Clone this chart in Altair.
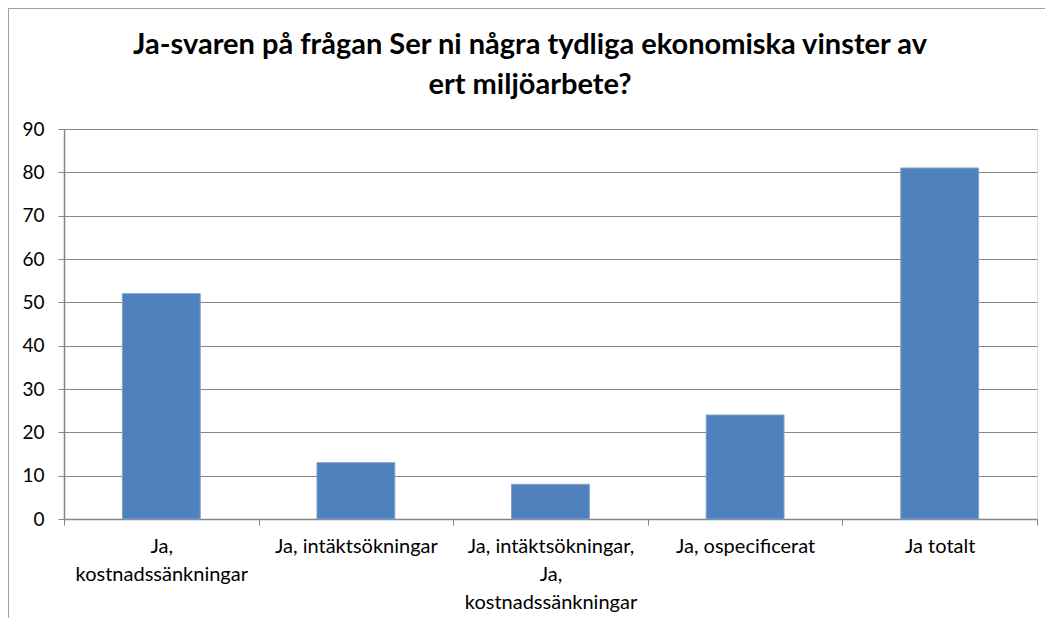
import altair as alt
import pandas as pd

categories = [
    "Ja, kostnadssänkningar",
    "Ja, intäktsökningar",
    "Ja, intäktsökningar, Ja, kostnadssänkningar",
    "Ja, ospecificerat",
    "Ja totalt",
]
wrapped_labels = [
    ["Ja,", "kostnadssänkningar"],
    ["Ja, intäktsökningar"],
    ["Ja, intäktsökningar,", "Ja,", "kostnadssänkningar"],
    ["Ja, ospecificerat"],
    ["Ja totalt"],
]
values = [52, 13, 8, 24, 81]
y_ticks = [0, 10, 20, 30, 40, 50, 60, 70, 80, 90]
title_lines = [
    "Ja-svaren på frågan Ser ni några tydliga ekonomiska vinster av",
    "ert miljöarbete?",
]

df = pd.DataFrame({"kategori": categories, "antal": values})

# label lookup expression for multi-line axis labels
pairs = []
for c, lines in zip(categories, wrapped_labels):
    arr = ",".join("'" + l + "'" for l in lines)
    pairs.append("'" + c + "': [" + arr + "]")
label_expr = "{" + ", ".join(pairs) + "}[datum.label]"

FONT = "Lato"
GRID = "#868686"

bars = alt.Chart(df).mark_bar(
    color="#4F81BD", stroke="#7EA2CF", strokeWidth=1,
    width=alt.RelativeBandSize(0.4),
).encode(
    x=alt.X(
        "kategori:N", sort=categories, title=None,
        scale=alt.Scale(paddingInner=0, paddingOuter=0),
        axis=alt.Axis(
            labelAngle=0, labelExpr=label_expr, tickBand="extent",
            tickSize=6, tickColor=GRID, domainColor=GRID, domainWidth=1.5,
            labelFont=FONT, labelFontSize=20, labelColor="#000000",
            labelPadding=21, labelLineHeight=28, labelLimit=300,
            labelBaseline="middle",
        ),
    ),
    y=alt.Y(
        "antal:Q", title=None,
        scale=alt.Scale(domain=[0, 90], nice=False),
        axis=alt.Axis(
            values=y_ticks, grid=True, gridColor=GRID, gridWidth=1,
            tickSize=6, tickColor=GRID, domainColor=GRID, domainWidth=1.5,
            labelFont=FONT, labelFontSize=19, labelColor="#000000",
            labelPadding=14,
        ),
    ),
)

frame = pd.DataFrame({"a": [0]})
border = alt.Chart(frame).mark_rect(
    fill=None, fillOpacity=0, stroke="#a0a0a0", strokeWidth=2
).encode(
    x=alt.value(-56), x2=alt.value(1100), y=alt.value(-121), y2=alt.value(700)
)
title = alt.Chart(frame).mark_text(
    font=FONT, fontSize=29, fontWeight="bold", color="#000000",
    align="center", baseline="middle", lineHeight=40,
).encode(
    x=alt.value(466), y=alt.value(-84), text=alt.value(title_lines)
)

chart = alt.layer(border, title, bars).properties(
    width=973,
    height=390,
    autosize=alt.AutoSizeParams(type="none"),
    padding={"left": 56, "top": 121, "right": 8, "bottom": 99},
).configure_view(stroke=None).configure(background="white")

chart.save("out.html", embed_options={"renderer": "svg", "actions": False})
